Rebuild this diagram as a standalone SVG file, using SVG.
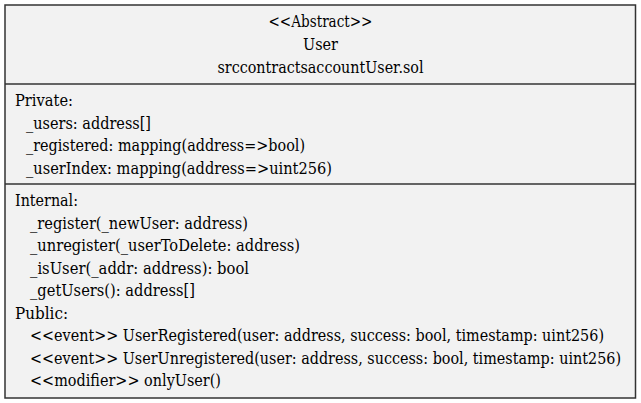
<svg xmlns="http://www.w3.org/2000/svg" width="641" height="403" viewBox="0 0 641 403">
<style>
text{font-family:"DejaVu Serif",serif;font-size:16.5px;fill:#000}
.c{text-anchor:middle}
.box{fill:#f2f2f2;stroke:#333;stroke-width:1.5}
.div{stroke:#333;stroke-width:1.5}
</style>
<rect width="641" height="403" fill="#fff"/>
<g id="User">
<rect class="box" x="5" y="5" width="630.5" height="393"/>
<line class="div" x1="5" y1="84" x2="635.5" y2="84"/>
<line class="div" x1="5" y1="184" x2="635.5" y2="184"/>
<text class="c" x="320.5" y="26.5" textLength="104" lengthAdjust="spacingAndGlyphs">&lt;&lt;Abstract&gt;&gt;</text>
<text class="c" x="320.5" y="49.5" textLength="35" lengthAdjust="spacingAndGlyphs">User</text>
<text class="c" x="320.5" y="72.5" textLength="206" lengthAdjust="spacingAndGlyphs">srccontractsaccountUser.sol</text>
<text x="15" y="106" textLength="58" lengthAdjust="spacingAndGlyphs">Private:</text>
<text x="26" y="128.5" textLength="125" lengthAdjust="spacingAndGlyphs">_users: address[]</text>
<text x="26" y="151" textLength="279" lengthAdjust="spacingAndGlyphs">_registered: mapping(address=&gt;bool)</text>
<text x="26" y="173.5" textLength="306" lengthAdjust="spacingAndGlyphs">_userIndex: mapping(address=&gt;uint256)</text>
<text x="15" y="206" textLength="63" lengthAdjust="spacingAndGlyphs">Internal:</text>
<text x="30" y="228.5" textLength="218" lengthAdjust="spacingAndGlyphs">_register(_newUser: address)</text>
<text x="30" y="251" textLength="270" lengthAdjust="spacingAndGlyphs">_unregister(_userToDelete: address)</text>
<text x="30" y="273.5" textLength="219" lengthAdjust="spacingAndGlyphs">_isUser(_addr: address): bool</text>
<text x="30" y="296" textLength="165" lengthAdjust="spacingAndGlyphs">_getUsers(): address[]</text>
<text x="15" y="318.5" textLength="53" lengthAdjust="spacingAndGlyphs">Public:</text>
<text x="30" y="341" textLength="574" lengthAdjust="spacingAndGlyphs">&lt;&lt;event&gt;&gt; UserRegistered(user: address, success: bool, timestamp: uint256)</text>
<text x="30" y="363.5" textLength="591" lengthAdjust="spacingAndGlyphs">&lt;&lt;event&gt;&gt; UserUnregistered(user: address, success: bool, timestamp: uint256)</text>
<text x="30" y="386" textLength="191" lengthAdjust="spacingAndGlyphs">&lt;&lt;modifier&gt;&gt; onlyUser()</text>
</g>
<g id="connectors"/>
</svg>
